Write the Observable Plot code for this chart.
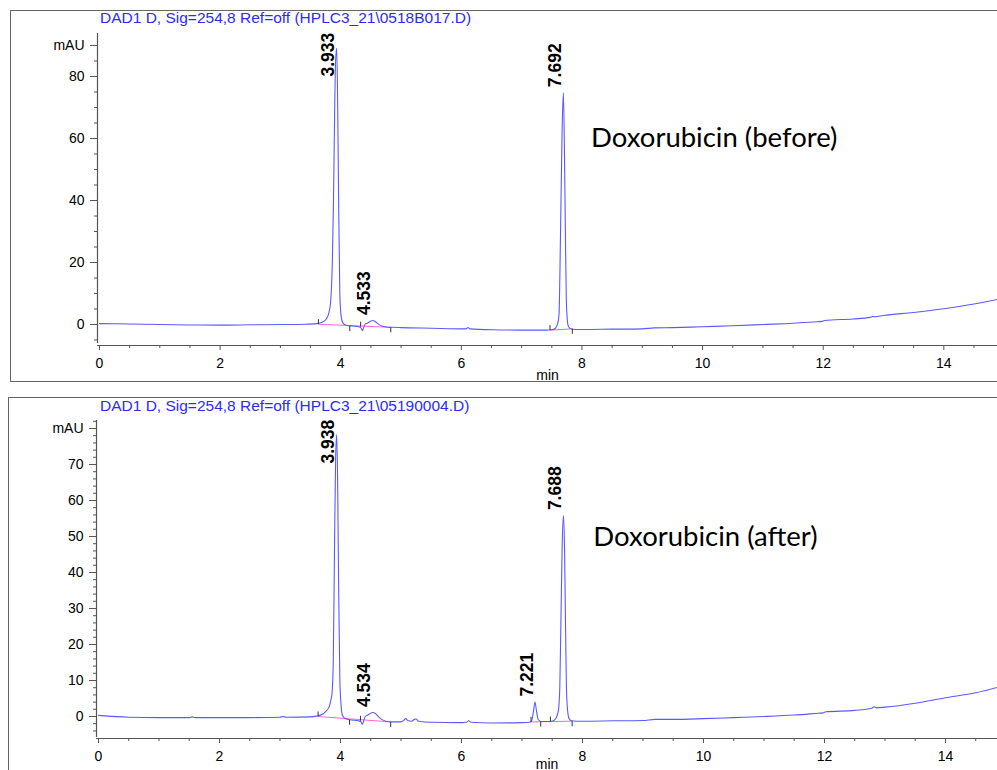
<!DOCTYPE html>
<html><head><meta charset="utf-8">
<script src="https://cdn.jsdelivr.net/npm/d3@7"></script>
<script src="https://cdn.jsdelivr.net/npm/@observablehq/plot@0.6"></script>
<style>
html,body{margin:0;padding:0;background:#fff;overflow:hidden;}
#wrap{position:relative;width:997px;height:770px;overflow:hidden;font-family:"Liberation Sans",Arial,sans-serif;background:#fff;}
.frame{position:absolute;border:1px solid #666;box-sizing:border-box;z-index:3;pointer-events:none;}
.title{position:absolute;color:#2b2bff;font-size:15.5px;line-height:18px;white-space:nowrap;z-index:4;}
.panel{position:absolute;left:0;z-index:1;}
</style></head><body>
<div id="wrap">
  <div class="frame" style="left:10px;top:10px;width:1010px;height:372px;"></div>
  <div class="frame" style="left:8px;top:397px;width:1010px;height:420px;"></div>
  <div class="title" style="left:100px;top:9px;">DAD1 D, Sig=254,8 Ref=off (HPLC3_21\0518B017.D)</div>
  <div class="title" style="left:100px;top:397px;">DAD1 D, Sig=254,8 Ref=off (HPLC3_21\05190004.D)</div>
  <div class="panel" id="p1" style="top:0px;"></div>
  <div class="panel" id="p2" style="top:385px;"></div>
</div>
<script>
// ---------- Top chromatogram (before) ----------
const topTime = [0.00,0.5,1.0,1.5,2.0,2.5,3.0,3.4,3.6,3.70,3.76,3.80,3.83,3.86,3.88,3.90,3.915,3.933,3.95,3.965,3.985,4.00,4.02,4.05,4.10,4.20,4.30,4.34,4.36,4.38,4.41,4.45,4.50,4.533,4.57,4.62,4.68,4.75,4.85,5.0,5.5,6.0,6.08,6.11,6.14,6.5,7.0,7.4,7.50,7.56,7.60,7.62,7.645,7.67,7.692,7.71,7.725,7.74,7.755,7.77,7.80,7.9,8.0,8.5,9.0,9.2,9.5,10.0,10.5,11.0,11.5,11.9,11.98,12.02,12.5,12.78,12.82,12.86,13.0,13.5,14.0,14.5,14.89];
const topSignal = [0.30,0.15,0.0,-0.15,-0.2,-0.1,0.0,0.1,0.3,0.8,1.8,3.5,6.8,19.7,40,70,85,89.1,70,40,10,4,1.3,0.2,-0.3,-0.5,-0.7,-1.2,-2.0,-1.0,0.2,0.5,1.1,1.3,1.0,0.2,-0.5,-0.8,-0.9,-1.0,-1.2,-1.4,-1.4,-1.0,-1.4,-1.7,-1.8,-1.8,-1.7,-1.2,0.5,3.5,30,62,74.8,55,30,8.7,2,-0.3,-1.2,-1.6,-1.6,-1.5,-1.4,-1.1,-1.0,-0.7,-0.4,0.0,0.4,0.9,1.0,1.3,1.8,2.3,2.6,2.5,2.9,3.9,5.1,6.6,8.1];
const topPeakTime = [3.933, 4.533, 7.692];
const topPeakHeight = [89.1, 1.3, 74.8];
const topPeakLabel = ["3.933", "4.533", "7.692"];
const topBaseStart = [3.63, 7.47];
const topBaseStartValue = [0.1, -1.8];
const topBaseEnd = [4.83, 7.84];
const topBaseEndValue = [-0.9, -1.4];
const topEventTime = [3.63, 4.15, 4.33, 4.83, 7.47, 7.84];
const topEventValue = [0.1, -0.5, -0.7, -0.9, -1.8, -1.4];
const topEventSide = [1, -1, 1, -1, 1, -1];
const topYMajor = [0, 20, 40, 60, 80, 90];
const topYMinor = [-5, 5, 10, 15, 25, 30, 35, 45, 50, 55, 65, 70, 75, 85];
const topTitle = "Doxorubicin (before)";

// ---------- Bottom chromatogram (after) ----------
const botTime = [0.00,0.5,1.0,1.5,1.55,1.6,2.0,2.5,3.0,3.05,3.1,3.5,3.6,3.70,3.76,3.81,3.84,3.86,3.88,3.90,3.92,3.938,3.955,3.97,3.99,4.01,4.03,4.07,4.15,4.30,4.34,4.36,4.38,4.41,4.46,4.50,4.534,4.57,4.62,4.68,4.75,4.85,5.0,5.05,5.08,5.12,5.18,5.22,5.25,5.29,5.5,6.0,6.08,6.12,6.16,6.5,7.0,7.12,7.16,7.19,7.215,7.24,7.27,7.32,7.45,7.52,7.56,7.60,7.625,7.645,7.665,7.688,7.705,7.72,7.735,7.755,7.78,7.82,7.9,8.0,8.5,9.0,9.2,9.5,10.0,10.5,11.0,11.5,11.9,11.98,12.02,12.5,12.78,12.82,12.86,13.0,13.5,14.0,14.5,14.86];
const botSignal = [0.3,-0.2,-0.3,-0.3,-0.1,-0.3,-0.3,-0.3,-0.2,0.0,-0.2,-0.1,0.1,0.6,1.5,2.6,4.5,6.4,14.7,45,72,78.3,62,35,10,3,0.5,-0.5,-0.9,-1.2,-1.5,-2.2,-1.4,0.0,0.5,0.9,1.1,0.9,0.1,-0.8,-1.3,-1.5,-1.5,-1.0,-0.6,-1.2,-1.3,-0.8,-0.7,-1.3,-1.6,-1.7,-1.6,-1.2,-1.6,-1.8,-1.7,-1.6,-1.2,1.5,4.0,1.5,-0.9,-1.4,-1.4,-1.2,-0.5,1.5,8,28,48,55.8,45,25,8,1.5,-0.6,-1.2,-1.3,-1.3,-1.2,-1.1,-0.8,-0.8,-0.6,-0.3,0.0,0.4,0.9,1.0,1.3,1.7,2.3,2.7,2.4,2.6,3.7,5.2,6.6,8.1];
const botPeakTime = [3.938, 4.534, 7.221, 7.688];
const botPeakHeight = [78.3, 1.1, 4.0, 55.8];
const botPeakLabel = ["3.938", "4.534", "7.221", "7.688"];
const botBaseStart = [3.63, 7.15];
const botBaseStartValue = [0.0, -1.5];
const botBaseEnd = [4.83, 7.83];
const botBaseEndValue = [-1.5, -1.3];
const botEventTime = [3.63, 4.15, 4.33, 4.83, 7.15, 7.31, 7.47, 7.83];
const botEventValue = [0.0, -0.9, -1.2, -1.5, -1.5, -1.4, -1.4, -1.3];
const botEventSide = [1, -1, 1, -1, 1, -1, 1, -1];
const botYMajor = [0, 10, 20, 30, 40, 50, 60, 70, 80];
const botYMinor = [-4, -2, 2, 4, 6, 8, 12, 14, 16, 18, 22, 24, 26, 28, 32, 34, 36, 38, 42, 44, 46, 48, 52, 54, 56, 58, 62, 64, 66, 68, 72, 74, 76, 78, 82];
const botTitle = "Doxorubicin (after)";

const xMajor = [0, 2, 4, 6, 8, 10, 12, 14];
const xMinor = [0.5, 1, 1.5, 2.5, 3, 3.5, 4.5, 5, 5.5, 6.5, 7, 7.5, 8.5, 9, 9.5, 10.5, 11, 11.5, 12.5, 13, 13.5, 14.5];

const FONT = "'Liberation Sans', Arial, sans-serif";
const AXIS = "#555";

function panel(cfg) {
  const H = 385;
  const plotH = H - cfg.marginTop - cfg.marginBottom;
  const k = plotH / (cfg.yDomain[1] - cfg.yDomain[0]); // px per mAU
  const line = cfg.time.map((t, i) => ({t, v: cfg.signal[i]}));
  const base = cfg.baseStart.map((t, i) => ({t1: t, v1: cfg.baseStartValue[i], t2: cfg.baseEnd[i], v2: cfg.baseEndValue[i]}));
  const events = cfg.eventTime.map((t, i) => ({t, v: cfg.eventValue[i], v2: cfg.eventValue[i] + cfg.eventSide[i] * 5 / k}));
  const labelLen = 43; // px of rotated label
  const peaks = cfg.peakTime.map((t, i) => ({
    t, label: cfg.peakLabel[i],
    y: Math.min(cfg.peakHeight[i] + 5.5 / k, cfg.yDomain[1] - labelLen / k)
  }));
  return Plot.plot({
    width: 997, height: H,
    marginLeft: cfg.marginLeft, marginRight: 0, marginTop: cfg.marginTop, marginBottom: cfg.marginBottom,
    style: {background: "transparent", fontFamily: FONT, overflow: "visible"},
    x: {domain: cfg.xDomain},
    y: {domain: cfg.yDomain},
    marks: [
      Plot.ruleY([cfg.yDomain[0]], {stroke: AXIS, strokeWidth: 1.2}),
      Plot.ruleX([cfg.xDomain[0]], {y1: cfg.yAxisBottom, y2: cfg.yDomain[1], stroke: AXIS, strokeWidth: 1.2}),
      Plot.axisX({ticks: xMinor, tickSize: 3, tickFormat: () => "", stroke: AXIS, label: null}),
      Plot.axisX({ticks: xMajor, tickSize: 5, tickPadding: 8, fontSize: 14, stroke: AXIS, fill: "black", label: null}),
      Plot.axisY({ticks: cfg.yMinor, tickSize: 3, tickFormat: () => "", stroke: AXIS, label: null}),
      Plot.axisY({ticks: cfg.yMajor, tickSize: 7, tickPadding: 6, fontSize: 14, stroke: AXIS, fill: "black", label: null,
        tickFormat: d => d === cfg.yMajor[cfg.yMajor.length - 1] ? "mAU" : String(d)}),
      Plot.text(["min"], {frameAnchor: "bottom", dy: cfg.minDy, fontSize: 14, fill: "black"}),
      Plot.link(base, {x1: "t1", y1: "v1", x2: "t2", y2: "v2", stroke: "#ff66dd", strokeWidth: 1}),
      Plot.line(line, {x: "t", y: "v", stroke: "#5a5aff", strokeWidth: 1.1, curve: "monotone-x"}),
      Plot.link(events, {x1: "t", x2: "t", y1: "v", y2: "v2", stroke: "#333", strokeWidth: 1}),
      Plot.text(peaks, {x: "t", y: "y", text: "label", rotate: -90, textAnchor: "start", lineAnchor: "bottom",
        dx: -2.5, fontSize: 17.5, fontWeight: "bold", fill: "black"}),
      Plot.text([cfg.title], {x: cfg.titleX, y: cfg.titleY, textAnchor: "start", fontSize: 27.5,
        fontFamily: "Lato, 'Open Sans', sans-serif", fill: "black"})
    ]
  });
}

document.getElementById("p1").appendChild(panel({
  time: topTime, signal: topSignal,
  peakTime: topPeakTime, peakHeight: topPeakHeight, peakLabel: topPeakLabel,
  baseStart: topBaseStart, baseStartValue: topBaseStartValue, baseEnd: topBaseEnd, baseEndValue: topBaseEndValue,
  eventTime: topEventTime, eventValue: topEventValue, eventSide: topEventSide,
  yMajor: topYMajor, yMinor: topYMinor,
  marginLeft: 97, marginTop: 33, marginBottom: 40,
  xDomain: [-0.033, 14.89], yDomain: [-6.77, 93.88], yAxisBottom: -6.1,
  title: topTitle, titleX: 8.15, titleY: 60, minDy: 34
}));

document.getElementById("p2").appendChild(panel({
  time: botTime, signal: botSignal,
  peakTime: botPeakTime, peakHeight: botPeakHeight, peakLabel: botPeakLabel,
  baseStart: botBaseStart, baseStartValue: botBaseStartValue, baseEnd: botBaseEnd, baseEndValue: botBaseEndValue,
  eventTime: botEventTime, eventValue: botEventValue, eventSide: botEventSide,
  yMajor: botYMajor, yMinor: botYMinor,
  marginLeft: 96, marginTop: 35, marginBottom: 32,
  xDomain: [-0.033, 14.86], yDomain: [-6.11, 82.22], yAxisBottom: -5.83,
  title: botTitle, titleX: 8.18, titleY: 49.7, minDy: 30
}));
</script>
</body></html>
